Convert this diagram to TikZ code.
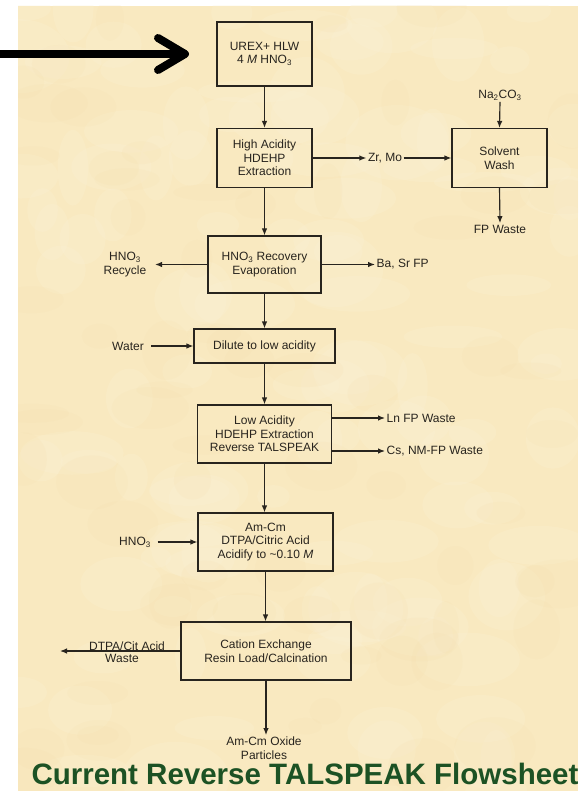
\documentclass[tikz,border=0pt]{standalone}
\usepackage{fontspec}
\setmainfont{Liberation Sans}
\usetikzlibrary{arrows.meta}

\definecolor{parch}{RGB}{249,233,192}
\definecolor{parchlight}{RGB}{253,243,216}
\definecolor{parchdark}{RGB}{241,219,168}
\definecolor{titlegreen}{RGB}{28,82,36}
\definecolor{ink}{RGB}{40,36,30}

\tikzset{
  stepbox/.style={draw=ink, line width=1.15pt, align=center, inner sep=0pt,
    font=\fontsize{12}{13.6}\selectfont, text=ink},
  lbl/.style={align=center, inner sep=1.5pt, font=\fontsize{12}{13.6}\selectfont, text=ink},
  flow/.style={draw=ink, line width=1.15pt, -{Latex[length=7pt,width=5.5pt]}},
  feedline/.style={draw=black, line width=8pt},
}

\begin{document}
\begin{tikzpicture}[x=1pt, y=-1pt]
  \useasboundingbox (0,0) rectangle (578,791);
  \fill[white] (0,0) rectangle (578,791);

  % parchment sheet with a soft mottled texture
  \begin{scope}
    \clip (18,6) rectangle (578,791);
    \fill[parch] (18,6) rectangle (578,791);
    \pgfmathsetseed{11}
    \foreach \i in {1,...,120}{
      \pgfmathsetmacro{\px}{18+560*rnd}
      \pgfmathsetmacro{\py}{6+785*rnd}
      \pgfmathsetmacro{\rx}{15+40*rnd}
      \pgfmathsetmacro{\ry}{10+28*rnd}
      \fill[parchlight, opacity=0.22] (\px,\py) ellipse ({\rx} and {\ry});
    }
    \foreach \i in {1,...,70}{
      \pgfmathsetmacro{\px}{18+560*rnd}
      \pgfmathsetmacro{\py}{6+785*rnd}
      \pgfmathsetmacro{\rx}{12+30*rnd}
      \pgfmathsetmacro{\ry}{8+22*rnd}
      \fill[parchdark, opacity=0.12] (\px,\py) ellipse ({\rx} and {\ry});
    }
  \end{scope}

  % process steps
  \node[stepbox, minimum width=95pt, minimum height=64pt] (urex) at (264.5,54)
    {UREX+ HLW\\4 \textit{M} HNO\textsubscript{3}};
  \node[stepbox, minimum width=95pt, minimum height=59pt] (high) at (264.5,158)
    {High Acidity\\HDEHP\\Extraction};
  \node[stepbox, minimum width=95pt, minimum height=59pt] (solvent) at (499.5,158)
    {Solvent\\Wash};
  \node[stepbox, minimum width=113pt, minimum height=57pt] (recov) at (264.5,264.5)
    {HNO\textsubscript{3} Recovery\\Evaporation};
  \node[stepbox, minimum width=141pt, minimum height=34pt] (dilute) at (264.5,346)
    {Dilute to low acidity};
  \node[stepbox, minimum width=134pt, minimum height=58pt] (low) at (264.5,434)
    {Low Acidity\\HDEHP Extraction\\Reverse TALSPEAK};
  \node[stepbox, minimum width=135pt, minimum height=58pt] (amcm) at (265.5,542)
    {Am-Cm\\DTPA/Citric Acid\\Acidify to \textasciitilde 0.10 \textit{M}};
  \node[stepbox, minimum width=170pt, minimum height=58pt] (cation) at (266,651)
    {Cation Exchange\\Resin Load/Calcination};

  % streams in and out
  \node[lbl] (na2co3) at (500,95) {Na\textsubscript{2}CO\textsubscript{3}};
  \node[lbl] (zrmo) at (385,158) {Zr, Mo};
  \node[lbl] (fpwaste) at (500,229) {FP Waste};
  \node[lbl] (hno3rec) at (125,264.5) {HNO\textsubscript{3}\\Recycle};
  \node[lbl, anchor=west] (basr) at (375,264.5) {Ba, Sr FP};
  \node[lbl] (water) at (128,346) {Water};
  \node[lbl, anchor=west] (lnfp) at (385,418) {Ln FP Waste};
  \node[lbl, anchor=west] (csnm) at (385,451) {Cs, NM-FP Waste};
  \node[lbl] (hno3b) at (135,542) {HNO\textsubscript{3}};
  \coordinate (dtpaend) at (60,651);
  \node[lbl, anchor=base] (dtpa) at (127,650.5) {DTPA/Cit Acid};
  \node[lbl, anchor=north] (dtpawaste) at (122,653) {Waste};
  \node[lbl] (amox) at (264,748) {Am-Cm Oxide\\Particles};

  % main flow
  \draw[flow] (urex.south) -- (urex.south |- high.north);
  \draw[flow] (high.south) -- (high.south |- recov.north);
  \draw[flow] (recov.south) -- (recov.south |- dilute.north);
  \draw[flow] (dilute.south) -- (dilute.south |- low.north);
  \draw[flow] (low.south) -- (low.south |- amcm.north);
  \draw[flow] (amcm.south) -- (amcm.south |- cation.north);
  \draw[flow] (cation.south) -- (cation.south |- amox.north);

  % side streams
  \draw[flow] (high.east) -- (zrmo.west);
  \draw[flow] (zrmo.east) -- (solvent.west);
  \draw[flow] (na2co3.south) -- (solvent.north);
  \draw[flow] (solvent.south) -- (fpwaste.north);
  \draw[flow] (recov.west) -- ([xshift=7pt]hno3rec.east |- recov.west);
  \draw[flow] (recov.east) -- (basr.west);
  \draw[flow] ([xshift=6pt]water.east) -- (dilute.west);
  \draw[flow] (low.east |- lnfp.west) -- (lnfp.west);
  \draw[flow] (low.east |- csnm.west) -- (csnm.west);
  \draw[flow] ([xshift=5pt]hno3b.east) -- (amcm.west);
  \draw[flow] (cation.west) -- (dtpaend);

  % feed arrow
  \coordinate (feed) at (0,54);
  \coordinate (feedtip) at (185,54);
  \draw[feedline] (feed) -- ([xshift=-5pt]feedtip);
  \draw[feedline, line cap=round, line join=round]
    ([shift={(-27,-16)}]feedtip) -- (feedtip) -- ([shift={(-27,16)}]feedtip);

  % caption
  \node[anchor=base, inner sep=0pt, text=titlegreen,
        font=\fontsize{29.5}{30}\selectfont\bfseries] (title) at (305,784)
    {Current Reverse TALSPEAK Flowsheet};
\end{tikzpicture}
\end{document}
